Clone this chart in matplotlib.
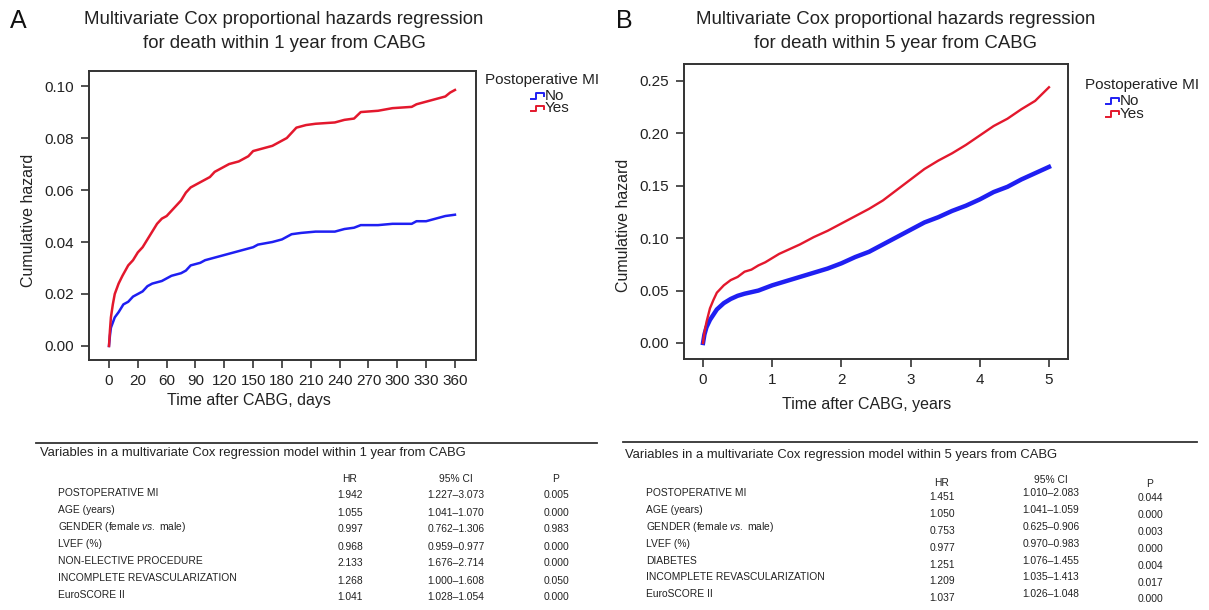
import matplotlib
matplotlib.use("Agg")
import matplotlib.pyplot as plt
from matplotlib.lines import Line2D

plt.rcParams["font.family"] = ["Liberation Sans", "DejaVu Sans"]
plt.rcParams["mathtext.fontset"] = "custom"
plt.rcParams["mathtext.rm"] = "Liberation Sans"
plt.rcParams["mathtext.it"] = "Liberation Sans:italic"

W, H = 1209, 610
RED = "#e3182d"
BLUE = "#1f1ff2"
DARK = "#333333"
TXT = "#222222"

# ---------- data ----------
# panel A: cumulative hazard, days
a_days_yes = [0, 1, 2, 4, 6, 10, 14, 20, 25, 30, 35, 40, 45, 50, 55, 60, 65, 70, 75, 80,
              85, 90, 100, 105, 110, 120, 125, 135, 145, 150, 160, 170, 180, 185, 190, 195,
              205, 215, 235, 245, 255, 262, 280, 295, 315, 320, 330, 340, 350, 355, 360]
a_haz_yes = [0.0, 0.006, 0.011, 0.016, 0.020, 0.024, 0.027, 0.031, 0.033, 0.036, 0.038,
             0.041, 0.044, 0.047, 0.049, 0.050, 0.052, 0.054, 0.056, 0.059, 0.061, 0.062,
             0.064, 0.065, 0.067, 0.069, 0.070, 0.071, 0.073, 0.075, 0.076, 0.077, 0.079,
             0.080, 0.082, 0.084, 0.085, 0.0855, 0.086, 0.087, 0.0875, 0.090, 0.0905,
             0.0915, 0.092, 0.093, 0.094, 0.095, 0.096, 0.0975, 0.0985]
a_days_no = [0, 1, 2, 4, 6, 10, 15, 20, 25, 30, 35, 40, 45, 55, 65, 75, 80, 85, 95, 100,
             110, 120, 130, 140, 150, 155, 170, 180, 190, 200, 215, 235, 245, 255, 262,
             280, 295, 315, 320, 330, 340, 350, 360]
a_haz_no = [0.0, 0.004, 0.007, 0.009, 0.011, 0.013, 0.016, 0.017, 0.019, 0.020, 0.021,
            0.023, 0.024, 0.025, 0.027, 0.028, 0.029, 0.031, 0.032, 0.033, 0.034, 0.035,
            0.036, 0.037, 0.038, 0.039, 0.040, 0.041, 0.043, 0.0435, 0.044, 0.044, 0.045,
            0.0455, 0.0465, 0.0465, 0.047, 0.047, 0.048, 0.048, 0.049, 0.050, 0.0505]
a_xticks = [0, 30, 60, 90, 120, 150, 180, 210, 240, 270, 300, 330, 360]
a_xticklabels = ["0", "20", "60", "90", "120", "150", "180", "210", "240", "270",
                 "300", "330", "360"]
a_yticks = [0.00, 0.02, 0.04, 0.06, 0.08, 0.10]

# panel B: cumulative hazard, years
b_years_yes = [0, 0.02, 0.05, 0.1, 0.15, 0.2, 0.3, 0.4, 0.5, 0.6, 0.7, 0.8, 0.9, 1.0, 1.1,
               1.2, 1.4, 1.6, 1.8, 2.0, 2.2, 2.4, 2.6, 2.8, 3.0, 3.2, 3.4, 3.6, 3.8, 4.0,
               4.2, 4.4, 4.6, 4.8, 5.0]
b_haz_yes = [0.0, 0.010, 0.020, 0.033, 0.041, 0.048, 0.055, 0.060, 0.063, 0.068, 0.070,
             0.074, 0.077, 0.081, 0.085, 0.088, 0.094, 0.101, 0.107, 0.114, 0.121, 0.128,
             0.136, 0.146, 0.156, 0.166, 0.174, 0.181, 0.189, 0.198, 0.207, 0.214, 0.223,
             0.231, 0.244]
b_years_no = [0, 0.02, 0.05, 0.1, 0.15, 0.2, 0.3, 0.4, 0.5, 0.6, 0.8, 1.0, 1.2, 1.4, 1.6,
              1.8, 2.0, 2.2, 2.4, 2.6, 2.8, 3.0, 3.2, 3.4, 3.6, 3.8, 4.0, 4.2, 4.4, 4.6,
              4.8, 5.0]
b_haz_no = [0.0, 0.008, 0.015, 0.022, 0.027, 0.032, 0.038, 0.042, 0.045, 0.047, 0.050,
            0.055, 0.059, 0.063, 0.067, 0.071, 0.076, 0.082, 0.087, 0.094, 0.101, 0.108,
            0.115, 0.120, 0.126, 0.131, 0.137, 0.144, 0.149, 0.156, 0.162, 0.168]
b_xticks = [0, 1, 2, 3, 4, 5]
b_yticks = [0.00, 0.05, 0.10, 0.15, 0.20, 0.25]

# tables
tab_a_title = "Variables in a multivariate Cox regression model within 1 year from CABG"
tab_a_vars = ["POSTOPERATIVE MI", "AGE (years)", r"GENDER (female $\mathit{vs.}$ male)",
              "LVEF (%)", "NON-ELECTIVE PROCEDURE", "INCOMPLETE REVASCULARIZATION",
              "EuroSCORE II"]
tab_a_hr = ["1.942", "1.055", "0.997", "0.968", "2.133", "1.268", "1.041"]
tab_a_ci = ["1.227\u20133.073", "1.041\u20131.070", "0.762\u20131.306", "0.959\u20130.977",
            "1.676\u20132.714", "1.000\u20131.608", "1.028\u20131.054"]
tab_a_p = ["0.005", "0.000", "0.983", "0.000", "0.000", "0.050", "0.000"]

tab_b_title = "Variables in a multivariate Cox regression model within 5 years from CABG"
tab_b_vars = ["POSTOPERATIVE MI", "AGE (years)", r"GENDER (female $\mathit{vs.}$ male)",
              "LVEF (%)", "DIABETES", "INCOMPLETE REVASCULARIZATION", "EuroSCORE II"]
tab_b_hr = ["1.451", "1.050", "0.753", "0.977", "1.251", "1.209", "1.037"]
tab_b_ci = ["1.010\u20132.083", "1.041\u20131.059", "0.625\u20130.906", "0.970\u20130.983",
            "1.076\u20131.455", "1.035\u20131.413", "1.026\u20131.048"]
tab_b_p = ["0.044", "0.000", "0.003", "0.000", "0.004", "0.017", "0.000"]


def fx(x):
    return x / W


def fy(y):
    return 1 - y / H


def make_axes(fig, left, top, right, bottom):
    return fig.add_axes([fx(left), fy(bottom), (right - left) / W, (bottom - top) / H])


def style_axes(ax):
    for sp in ax.spines.values():
        sp.set_color(DARK)
        sp.set_linewidth(1.4)
    ax.tick_params(axis="both", colors=DARK, labelcolor=TXT, length=6,
                   width=1.2, labelsize=11)
    ax.tick_params(axis="y", pad=5)
    ax.tick_params(axis="x", pad=4)


def draw_legend(fig, x, y, sym_x):
    fig.text(fx(x), fy(y), "Postoperative MI", fontsize=11, color=TXT,
             va="center", ha="left")
    for k, (lab, col) in enumerate([("No", BLUE), ("Yes", RED)]):
        yy = y + 16 + 12.5 * k
        xs = [sym_x, sym_x + 5, sym_x + 5, sym_x + 13, sym_x + 13]
        ys = [yy + 3, yy + 3, yy - 3, yy - 3, yy]
        fig.add_artist(Line2D([fx(v) for v in xs], [fy(v) for v in ys], color=col,
                              lw=1.4, transform=fig.transFigure))
        fig.text(fx(sym_x + 14), fy(yy), lab, fontsize=11, color=TXT,
                 va="center", ha="left")


def hline(fig, x0, x1, y):
    fig.add_artist(Line2D([fx(x0), fx(x1)], [fy(y), fy(y)], color=DARK, lw=1.3,
                          transform=fig.transFigure))


fig = plt.figure(figsize=(W / 100, H / 100), dpi=100)

# ---------------- panel A ----------------
axA = make_axes(fig, 89, 71, 476, 360)
axA.plot(a_days_no, a_haz_no, color=BLUE, lw=1.8)
axA.plot(a_days_yes, a_haz_yes, color=RED, lw=1.8)
axA.set_xlim(-20.8, 381.9)
axA.set_ylim(-0.0054, 0.1058)
axA.set_xticks(a_xticks)
axA.set_xticklabels(a_xticklabels)
axA.set_yticks(a_yticks)
axA.set_yticklabels([f"{v:.2f}" for v in a_yticks])
style_axes(axA)
fig.text(fx(249), fy(400), "Time after CABG, days", fontsize=11.5, color=TXT,
         ha="center", va="center")
fig.text(fx(29), fy(220), "Cumulative hazard", fontsize=11.5, color=TXT,
         ha="center", va="center", rotation=90)
fig.text(fx(284), fy(20), "Multivariate Cox proportional hazards regression",
         fontsize=13.4, color=TXT, ha="center", va="center")
fig.text(fx(284), fy(43), "for death within 1 year from CABG",
         fontsize=13.4, color=TXT, ha="center", va="center")
fig.text(fx(18), fy(21), "A", fontsize=18, color="#111111", ha="center", va="center")
draw_legend(fig, 485, 80, 531)

# ---------------- panel B ----------------
axB = make_axes(fig, 684, 64, 1068, 359)
axB.plot(b_years_no, b_haz_no, color=BLUE, lw=3.2)
axB.plot(b_years_yes, b_haz_yes, color=RED, lw=1.7)
axB.set_xlim(-0.275, 5.275)
axB.set_ylim(-0.0153, 0.2662)
axB.set_xticks(b_xticks)
axB.set_yticks(b_yticks)
axB.set_yticklabels([f"{v:.2f}" for v in b_yticks])
style_axes(axB)
fig.text(fx(867), fy(405), "Time after CABG, years", fontsize=11.5, color=TXT,
         ha="center", va="center")
fig.text(fx(623), fy(225), "Cumulative hazard", fontsize=11.5, color=TXT,
         ha="center", va="center", rotation=90)
fig.text(fx(896), fy(20), "Multivariate Cox proportional hazards regression",
         fontsize=13.4, color=TXT, ha="center", va="center")
fig.text(fx(896), fy(43), "for death within 5 year from CABG",
         fontsize=13.4, color=TXT, ha="center", va="center")
fig.text(fx(624), fy(21), "B", fontsize=18, color="#111111", ha="center", va="center")
draw_legend(fig, 1085, 85, 1106)

# ---------------- table A ----------------
hline(fig, 36, 597, 443)
fig.text(fx(40), fy(453), tab_a_title, fontsize=9.4, color=TXT, va="center", ha="left")
for i, name in enumerate(tab_a_vars):
    fig.text(fx(58), fy(493 + 17 * i), name, fontsize=7.4, color=TXT,
             va="center", ha="left")
for cx, head, vals in [(350, "HR", tab_a_hr), (456, "95% CI", tab_a_ci), (556, "P", tab_a_p)]:
    fig.text(fx(cx), fy(479), head, fontsize=7.4, color=TXT, va="center", ha="center")
    for i, v in enumerate(vals):
        fig.text(fx(cx), fy(495.5 + 17 * i), v, fontsize=7.4, color=TXT,
                 va="center", ha="center")

# ---------------- table B ----------------
hline(fig, 623, 1197, 442)
fig.text(fx(625), fy(455), tab_b_title, fontsize=9.4, color=TXT, va="center", ha="left")
for i, name in enumerate(tab_b_vars):
    fig.text(fx(646), fy(493 + 16.9 * i), name, fontsize=7.4, color=TXT,
             va="center", ha="left")
for cx, hy, y0, head, vals in [(942, 483, 497, "HR", tab_b_hr),
                               (1051, 480, 493, "95% CI", tab_b_ci),
                               (1150, 484, 498, "P", tab_b_p)]:
    fig.text(fx(cx), fy(hy), head, fontsize=7.4, color=TXT, va="center", ha="center")
    for i, v in enumerate(vals):
        fig.text(fx(cx), fy(y0 + 16.9 * i), v, fontsize=7.4, color=TXT,
                 va="center", ha="center")

fig.savefig("out.png", dpi=100)
